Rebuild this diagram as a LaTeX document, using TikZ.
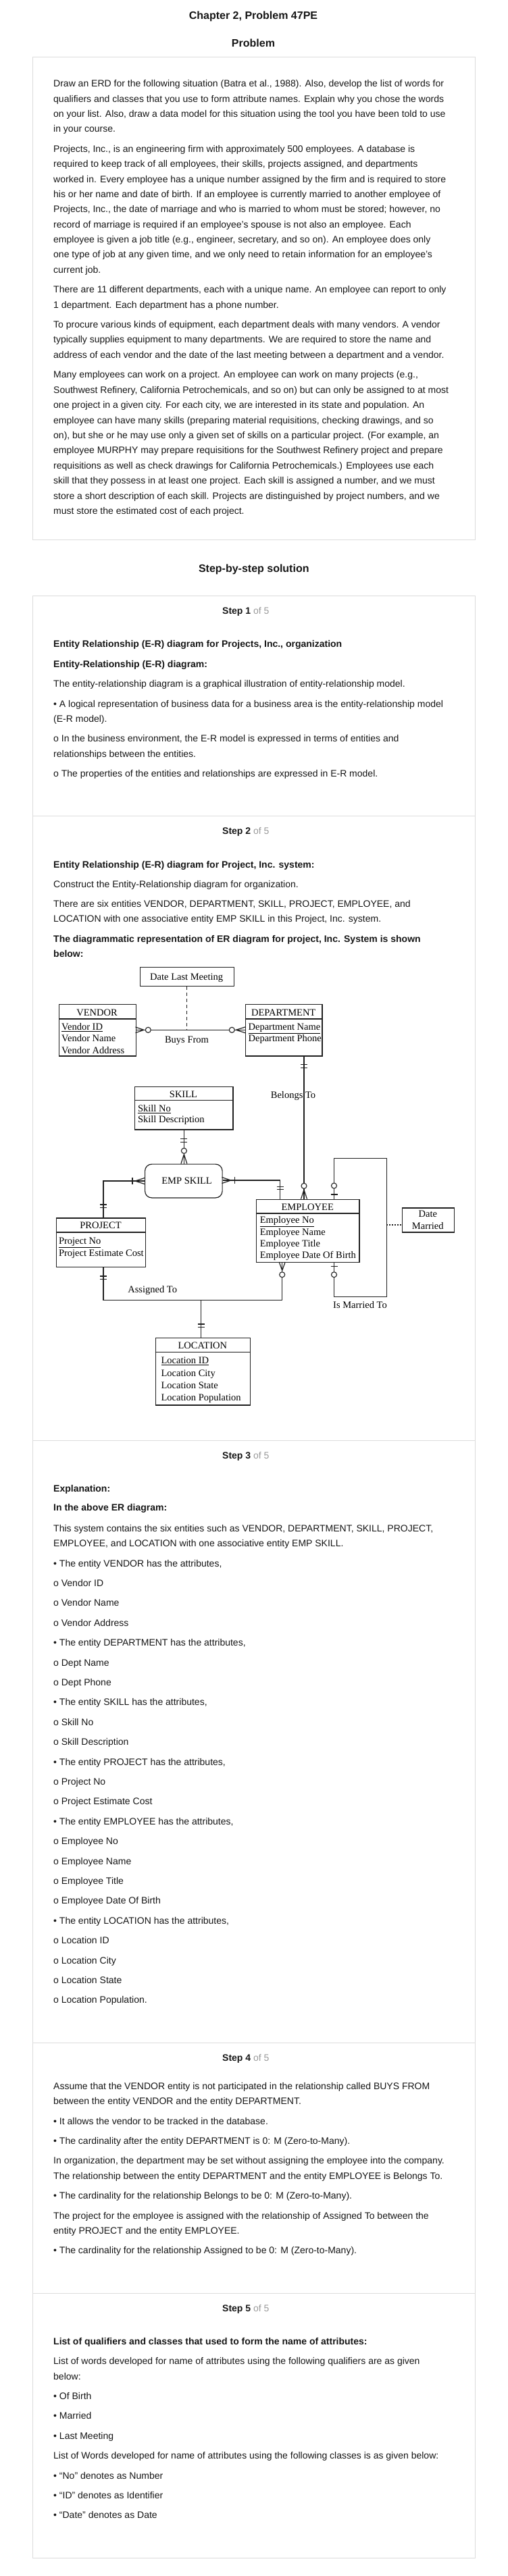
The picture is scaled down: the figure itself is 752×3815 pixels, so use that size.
\documentclass[tikz,border=0pt]{standalone}
\usepackage{fontspec}
\setmainfont{Liberation Sans}
\newfontfamily\diafont{Liberation Serif}
\usetikzlibrary{calc}
\definecolor{txt}{HTML}{161616}
\definecolor{panelc}{HTML}{DCDCDC}
\definecolor{stepgray}{HTML}{9A9A9A}
\definecolor{dial}{HTML}{202020}
\newcounter{lnc}
\newcommand\bodyline[2]{\stepcounter{lnc}\node[bodytxt] (L\thelnc) at (79,{#1+5}) {#2};}
\newcommand\boldline[2]{\stepcounter{lnc}\node[bodytxt,font=\fontsize{14}{16}\selectfont\bfseries] (L\thelnc) at (79,{#1+5}) {#2};}
\newcommand\stepttl[3]{\node[bodytxt] (#1) at (329,{#2+5}) {\textbf{Step #3} \textcolor{stepgray}{of 5}};}
\tikzset{
  bodytxt/.style={anchor=base west, inner sep=0pt, text=txt, font=\fontsize{14}{16}\selectfont},
  headtxt/.style={anchor=base, inner sep=0pt, text=txt, font=\fontsize{16}{18}\selectfont\bfseries},
  panel/.style={draw=panelc, line width=1pt, anchor=north west, inner sep=0pt},
  panelline/.style={draw=panelc, line width=1pt},
  ebox/.style={draw=dial, line width=1.2pt, anchor=north west, inner sep=0pt, fill=white},
  diatxt/.style={inner sep=0pt, text=black, font=\diafont\fontsize{14.5}{17}\selectfont},
  ln/.style={draw=dial, line width=1.2pt},
  ring/.style={draw=dial, line width=1.1pt, fill=white},
}
\begin{document}
\begin{tikzpicture}[x=1pt,y=-1pt]
\useasboundingbox[fill=white] (0,0) rectangle (752,3815);

% ---------- headings ----------
\node[headtxt] (title) at (375,28) {Chapter 2, Problem 47PE};
\node[headtxt] (probhead) at (375,69) {Problem};
\node[panel, minimum width=654.6pt, minimum height=715.3pt] (probbox) at (48,84) {};

\bodyline{123.3}{Draw an ERD for the following situation (Batra et al., 1988). Also, develop the list of words for}
\bodyline{146.7}{qualifiers and classes that you use to form attribute names. Explain why you chose the words}
\bodyline{168.3}{on your list. Also, draw a data model for this situation using the tool you have been told to use}
\bodyline{190.7}{in your course.}
\bodyline{220}{Projects, Inc., is an engineering firm with approximately 500 employees. A database is}
\bodyline{242.3}{required to keep track of all employees, their skills, projects assigned, and departments}
\bodyline{265}{worked in. Every employee has a unique number assigned by the firm and is required to store}
\bodyline{287.3}{his or her name and date of birth. If an employee is currently married to another employee of}
\bodyline{309.3}{Projects, Inc., the date of marriage and who is married to whom must be stored; however, no}
\bodyline{332.3}{record of marriage is required if an employee's spouse is not also an employee. Each}
\bodyline{354.3}{employee is given a job title (e.g., engineer, secretary, and so on). An employee does only}
\bodyline{376.7}{one type of job at any given time, and we only need to retain information for an employee's}
\bodyline{399}{current job.}
\bodyline{428.3}{There are 11 different departments, each with a unique name. An employee can report to only}
\bodyline{451}{1 department. Each department has a phone number.}
\bodyline{480}{To procure various kinds of equipment, each department deals with many vendors. A vendor}
\bodyline{502.7}{typically supplies equipment to many departments. We are required to store the name and}
\bodyline{525.3}{address of each vendor and the date of the last meeting between a department and a vendor.}
\bodyline{554.3}{Many employees can work on a project. An employee can work on many projects (e.g.,}
\bodyline{577.3}{Southwest Refinery, California Petrochemicals, and so on) but can only be assigned to at most}
\bodyline{599.3}{one project in a given city. For each city, we are interested in its state and population. An}
\bodyline{622.3}{employee can have many skills (preparing material requisitions, checking drawings, and so}
\bodyline{644}{on), but she or he may use only a given set of skills on a particular project. (For example, an}
\bodyline{666.7}{employee MURPHY may prepare requisitions for the Southwest Refinery project and prepare}
\bodyline{689.3}{requisitions as well as check drawings for California Petrochemicals.) Employees use each}
\bodyline{711}{skill that they possess in at least one project. Each skill is assigned a number, and we must}
\bodyline{734}{store a short description of each skill. Projects are distinguished by project numbers, and we}
\bodyline{756}{must store the estimated cost of each project.}

\node[headtxt] (solhead) at (375.8,847.7) {Step-by-step solution};

% ---------- steps panel ----------
\node[panel, minimum width=654.6pt, minimum height=2906pt] (stepbox) at (48,882.3) {};
\draw[panelline] (stepbox.west |- 0,1208.3) -- (stepbox.east |- 0,1208.3);
\draw[panelline] (stepbox.west |- 0,2133.3) -- (stepbox.east |- 0,2133.3);
\draw[panelline] (stepbox.west |- 0,3025.7) -- (stepbox.east |- 0,3025.7);
\draw[panelline] (stepbox.west |- 0,3396.7) -- (stepbox.east |- 0,3396.7);

% Step 1
\stepttl{st1}{904}{1}
\boldline{953.3}{Entity Relationship (E-R) diagram for Projects, Inc., organization}
\boldline{983.3}{Entity-Relationship (E-R) diagram:}
\bodyline{1012.3}{The entity-relationship diagram is a graphical illustration of entity-relationship model.}
\bodyline{1042.3}{• A logical representation of business data for a business area is the entity-relationship model}
\bodyline{1064.3}{(E-R model).}
\bodyline{1093.3}{o In the business environment, the E-R model is expressed in terms of entities and}
\bodyline{1116}{relationships between the entities.}
\bodyline{1145}{o The properties of the entities and relationships are expressed in E-R model.}

% Step 2
\stepttl{st2}{1230}{2}
\boldline{1280}{Entity Relationship (E-R) diagram for Project, Inc. system:}
\bodyline{1309.3}{Construct the Entity-Relationship diagram for organization.}
\bodyline{1338.3}{There are six entities VENDOR, DEPARTMENT, SKILL, PROJECT, EMPLOYEE, and}
\bodyline{1360.7}{LOCATION with one associative entity EMP SKILL in this Project, Inc. system.}
\boldline{1390}{The diagrammatic representation of ER diagram for project, Inc. System is shown}
\boldline{1412.7}{below:}

% ---------- ER diagram ----------
% coordinates for connector rows/columns
\coordinate (bfy) at (0,1525.3);
\coordinate (btx) at (450,0);
\coordinate (skx) at (272.4,0);
\coordinate (esly) at (0,1749);
\coordinate (esry) at (0,1748);
\coordinate (prx) at (153,0);
\coordinate (emx) at (414.8,0);
\coordinate (mlx) at (494.5,0);
\coordinate (mrx) at (572.2,0);
\coordinate (mty) at (0,1715.7);
\coordinate (mby) at (0,1920.3);
\coordinate (asy) at (0,1925.3);
\coordinate (asx) at (417.7,0);
\coordinate (lcx) at (297.8,0);
\coordinate (dmy) at (0,1814);

% boxes
\node[ebox, minimum width=139.1pt, minimum height=28.3pt] (dlm) at (206.7,1431.7) {};
\node[ebox, minimum width=113.7pt, minimum height=76.3pt] (vendor) at (86.8,1487) {};
\node[ebox, minimum width=113.3pt, minimum height=76.3pt] (dept) at (363,1487) {};
\node[ebox, minimum width=145.8pt, minimum height=63.6pt] (skill) at (198.6,1608.7) {};
\node[ebox, minimum width=114.5pt, minimum height=49.8pt, rounded corners=10pt] (empskill) at (214,1723.5) {};
\node[ebox, minimum width=131.9pt, minimum height=72.7pt] (project) at (83,1803.3) {};
\node[ebox, minimum width=152.5pt, minimum height=93.3pt] (employee) at (378.9,1775.7) {};
\node[ebox, minimum width=76.3pt, minimum height=36pt] (datem) at (595.2,1788.3) {};
\node[ebox, minimum width=140.1pt, minimum height=99.6pt] (location) at (229.7,1980.7) {};

% header dividers
\draw[ln] (vendor.west |- 0,1509) -- (vendor.east |- 0,1509);
\draw[ln] (dept.west |- 0,1509) -- (dept.east |- 0,1509);
\draw[ln] (skill.west |- 0,1629.3) -- (skill.east |- 0,1629.3);
\draw[ln] (project.west |- 0,1825) -- (project.east |- 0,1825);
\draw[ln] (employee.west |- 0,1797) -- (employee.east |- 0,1797);
\draw[ln] (location.west |- 0,2002.3) -- (location.east |- 0,2002.3);

% box texts
\node[diatxt, anchor=base] (dlmT) at (276.2,1451) {Date Last Meeting};
\node[diatxt, anchor=base] (vT) at (143.6,1504) {VENDOR};
\node[diatxt, anchor=base west] (v1) at (91,1525.7) {\underline{Vendor ID}};
\node[diatxt, anchor=base west] (v2) at (91,1542.7) {Vendor Name};
\node[diatxt, anchor=base west] (v3) at (91,1560.3) {Vendor Address};
\node[diatxt, anchor=base] (dT) at (419.7,1504) {DEPARTMENT};
\node[diatxt, anchor=base west] (d1) at (367.4,1525.7) {\underline{Department Name}};
\node[diatxt, anchor=base west] (d2) at (367.4,1542.7) {Department Phone};
\node[diatxt, anchor=base] (sT) at (271.5,1625.3) {SKILL};
\node[diatxt, anchor=base west] (s1) at (203.8,1646.7) {\underline{Skill No}};
\node[diatxt, anchor=base west] (s2) at (203.8,1662) {Skill Description};
\node[diatxt, anchor=base] (esT) at (276.6,1753) {EMP SKILL};
\node[diatxt, anchor=base] (pT) at (149,1819.7) {PROJECT};
\node[diatxt, anchor=base west] (p1) at (86.8,1842.7) {\underline{Project No}};
\node[diatxt, anchor=base west] (p2) at (86.8,1860.7) {Project Estimate Cost};
\node[diatxt, anchor=base] (eT) at (455.2,1792) {EMPLOYEE};
\node[diatxt, anchor=base west] (e1) at (384.6,1811.7) {\underline{Employee No}};
\node[diatxt, anchor=base west] (e2) at (384.6,1829) {Employee Name};
\node[diatxt, anchor=base west] (e3) at (384.6,1846.7) {Employee Title};
\node[diatxt, anchor=base west] (e4) at (384.6,1863.7) {Employee Date Of Birth};
\node[diatxt, anchor=base] (dmT1) at (633.3,1802.7) {Date};
\node[diatxt, anchor=base] (dmT2) at (633.3,1820.7) {Married};
\node[diatxt, anchor=base] (lT) at (299.8,1997) {LOCATION};
\node[diatxt, anchor=base west] (l1) at (238.4,2019.7) {\underline{Location ID}};
\node[diatxt, anchor=base west] (l2) at (238.4,2038) {Location City};
\node[diatxt, anchor=base west] (l3) at (238.4,2056) {Location State};
\node[diatxt, anchor=base west] (l4) at (238.4,2074) {Location Population};

% relationship labels
\node[diatxt, anchor=base] (bfL) at (276.5,1544) {Buys From};
\node[diatxt, anchor=base] (btL) at (434,1626) {Belongs To};
\node[diatxt, anchor=base] (asL) at (225.7,1914.3) {Assigned To};
\node[diatxt, anchor=base] (imL) at (533,1937.3) {Is Married To};

% connectors
\draw[ln, dash pattern=on 5pt off 4pt] (dlm.south) -- (dlm.south |- bfy);
\draw[ln] (vendor.east |- bfy) -- (dept.west |- bfy);
\draw[ln] (dept.south -| btx) -- (employee.north -| btx);
\draw[ln] (skill.south -| skx) -- (empskill.north -| skx);
\draw[ln] (empskill.west |- esly) -- (prx |- esly) -- (project.north -| prx);
\draw[ln] (empskill.east |- esry) -- (emx |- esry) -- (employee.north -| emx);
\draw[ln] (employee.north -| mlx) -- (mlx |- mty) -- (mrx |- mty) -- (mrx |- mby) -- (mlx |- mby) -- (employee.south -| mlx);
\draw[ln, dash pattern=on 2pt off 2pt] (mrx |- dmy) -- (datem.west |- dmy);
\draw[ln] (project.south -| prx) -- (prx |- asy) -- (asx |- asy) -- (employee.south -| asx);
\draw[ln] (lcx |- asy) -- (location.north -| lcx);

% cardinality marks
% Buys From
\draw[ln] (200.5,1521) -- (213,1525.3) -- (200.5,1529.6);
\draw[ring] (219.3,1525.3) circle[radius=4pt];
\draw[ln] (363,1521) -- (349.3,1525.3) -- (363,1529.6);
\draw[ring] (343.3,1525.3) circle[radius=4pt];
% Belongs To
\draw[ln] (445,1576.7) -- (455,1576.7);
\draw[ln] (445,1581.7) -- (455,1581.7);
\draw[ring] (450,1756.3) circle[radius=4pt];
\draw[ln] (445.5,1775.7) -- (450,1762) -- (454.5,1775.7);
% SKILL - EMP SKILL
\draw[ln] (267.4,1686.7) -- (277.4,1686.7);
\draw[ln] (267.4,1691.7) -- (277.4,1691.7);
\draw[ring] (272.4,1704.3) circle[radius=4pt];
\draw[ln] (267.9,1723.5) -- (272.4,1709.5) -- (276.9,1723.5);
% EMP SKILL - PROJECT
\draw[ln] (214,1744.5) -- (200,1749) -- (214,1753.5);
\draw[ln] (196,1744) -- (196,1754);
\draw[ln] (148,1784) -- (158,1784);
\draw[ln] (148,1788.7) -- (158,1788.7);
% EMP SKILL - EMPLOYEE
\draw[ln] (328.5,1743.5) -- (341.7,1748) -- (328.5,1752.5);
\draw[ln] (347.3,1743) -- (347.3,1753);
\draw[ln] (409.8,1757.3) -- (419.8,1757.3);
\draw[ln] (409.8,1761.7) -- (419.8,1761.7);
% Is Married To
\draw[ring] (494.5,1756) circle[radius=4pt];
\draw[ln] (489.5,1769) -- (499.5,1769);
\draw[ln] (489.5,1875.7) -- (499.5,1875.7);
\draw[ring] (494.5,1887.7) circle[radius=4pt];
% Assigned To
\draw[ln] (148,1890) -- (158,1890);
\draw[ln] (148,1894.7) -- (158,1894.7);
\draw[ln] (413.2,1869) -- (417.7,1881.5) -- (422.2,1869);
\draw[ring] (417.7,1887.7) circle[radius=4pt];
% LOCATION
\draw[ln] (292.8,1961) -- (302.8,1961);
\draw[ln] (292.8,1965.7) -- (302.8,1965.7);

% Step 3
\stepttl{st3}{2155}{3}
\boldline{2204}{Explanation:}
\boldline{2232.7}{In the above ER diagram:}
\bodyline{2263.3}{This system contains the six entities such as VENDOR, DEPARTMENT, SKILL, PROJECT,}
\bodyline{2285.7}{EMPLOYEE, and LOCATION with one associative entity EMP SKILL.}
\bodyline{2315}{• The entity VENDOR has the attributes,}
\bodyline{2344}{o Vendor ID}
\bodyline{2373.3}{o Vendor Name}
\bodyline{2403.3}{o Vendor Address}
\bodyline{2432.3}{• The entity DEPARTMENT has the attributes,}
\bodyline{2462}{o Dept Name}
\bodyline{2491}{o Dept Phone}
\bodyline{2520}{• The entity SKILL has the attributes,}
\bodyline{2550}{o Skill No}
\bodyline{2579.3}{o Skill Description}
\bodyline{2609.3}{• The entity PROJECT has the attributes,}
\bodyline{2638.3}{o Project No}
\bodyline{2667.3}{o Project Estimate Cost}
\bodyline{2697.3}{• The entity EMPLOYEE has the attributes,}
\bodyline{2726.3}{o Employee No}
\bodyline{2756}{o Employee Name}
\bodyline{2785.3}{o Employee Title}
\bodyline{2814.3}{o Employee Date Of Birth}
\bodyline{2844.3}{• The entity LOCATION has the attributes,}
\bodyline{2873.3}{o Location ID}
\bodyline{2903.3}{o Location City}
\bodyline{2932}{o Location State}
\bodyline{2961}{o Location Population.}

% Step 4
\stepttl{st4}{3047.3}{4}
\bodyline{3089}{Assume that the VENDOR entity is not participated in the relationship called BUYS FROM}
\bodyline{3111}{between the entity VENDOR and the entity DEPARTMENT.}
\bodyline{3141.3}{• It allows the vendor to be tracked in the database.}
\bodyline{3170}{• The cardinality after the entity DEPARTMENT is 0: M (Zero-to-Many).}
\bodyline{3199.3}{In organization, the department may be set without assigning the employee into the company.}
\bodyline{3222.3}{The relationship between the entity DEPARTMENT and the entity EMPLOYEE is Belongs To.}
\bodyline{3251.7}{• The cardinality for the relationship Belongs to be 0: M (Zero-to-Many).}
\bodyline{3281}{The project for the employee is assigned with the relationship of Assigned To between the}
\bodyline{3303.3}{entity PROJECT and the entity EMPLOYEE.}
\bodyline{3332.3}{• The cardinality for the relationship Assigned to be 0: M (Zero-to-Many).}

% Step 5
\stepttl{st5}{3418.3}{5}
\boldline{3467.3}{List of qualifiers and classes that used to form the name of attributes:}
\bodyline{3496.7}{List of words developed for name of attributes using the following qualifiers are as given}
\bodyline{3519.3}{below:}
\bodyline{3548.3}{• Of Birth}
\bodyline{3577.3}{• Married}
\bodyline{3607.3}{• Last Meeting}
\bodyline{3636}{List of Words developed for name of attributes using the following classes is as given below:}
\bodyline{3666}{• “No” denotes as Number}
\bodyline{3695}{• “ID” denotes as Identifier}
\bodyline{3724}{• “Date” denotes as Date}
\end{tikzpicture}
\end{document}
